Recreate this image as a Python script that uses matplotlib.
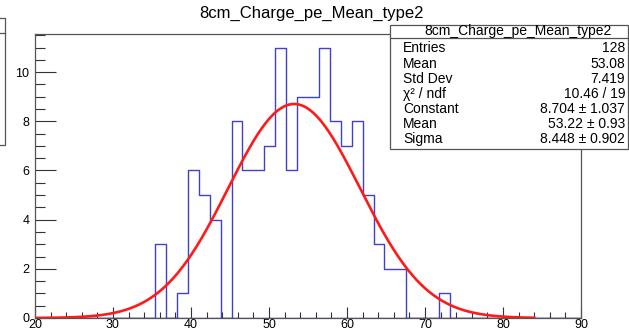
import numpy as np
import matplotlib
matplotlib.use("Agg")
import matplotlib.pyplot as plt
from matplotlib.ticker import MultipleLocator
from matplotlib.patches import Rectangle
from matplotlib.lines import Line2D

plt.rcParams['font.family'] = ['Liberation Sans', 'DejaVu Sans']

title = "8cm_Charge_pe_Mean_type2"
x_min, x_max, n_bins = 20.0, 90.0, 50
counts = [0, 0, 0, 0, 0, 0, 0, 0, 0, 0,
          0, 3, 0, 1, 6, 5, 4, 0, 8, 6,
          6, 7, 11, 6, 9, 9, 11, 8, 7, 8,
          5, 3, 2, 2, 0, 0, 0, 1, 0, 0,
          0, 0, 0, 0, 0, 0, 0, 0, 0, 0]
fit_const, fit_mean, fit_sigma = 8.704, 53.22, 8.448
fit_range = (20.0, 84.0)
stats_labels = ["Entries", "Mean", "Std Dev", "\u03c7\u00b2 / ndf", "Constant", "Mean", "Sigma"]
stats_values = ["128", "53.08", "7.419", "10.46 / 19", "8.704 \u00b1 1.037",
                "53.22 \u00b1 0.93", "8.448 \u00b1 0.902"]

W, H = 629, 331
fig = plt.figure(figsize=(W / 100, H / 100), dpi=100)
ax = fig.add_axes([35 / W, 1 - 318 / H, (581 - 35) / W, (318 - 34) / H])

edges = np.linspace(x_min, x_max, n_bins + 1)
cnt = np.array(counts, dtype=float)
# ROOT-style outline
xs = np.repeat(edges, 2)
ys = np.concatenate([[0], np.repeat(cnt, 2), [0]])
ax.plot(xs, ys, color='#4040c8', lw=1.0, zorder=3)
ax.plot([x_min, x_max], [0, 0], color='#303090', lw=1.0, zorder=3)

xf = np.linspace(fit_range[0], fit_range[1], 400)
yf = fit_const * np.exp(-0.5 * ((xf - fit_mean) / fit_sigma) ** 2)
ax.plot(xf, yf, color='#ff1a1a', lw=1.9, zorder=4)

ymax = 1.05 * max(counts)
ax.set_xlim(x_min, x_max)
ax.set_ylim(0, ymax)

ax.xaxis.set_major_locator(MultipleLocator(10))
ax.xaxis.set_minor_locator(MultipleLocator(2))
ax.yaxis.set_major_locator(MultipleLocator(2))
ax.yaxis.set_minor_locator(MultipleLocator(0.5))
ax.tick_params(axis='x', which='major', direction='in', length=8, width=0.8, labelsize=9, pad=1, color='#333333')
ax.tick_params(axis='x', which='minor', direction='in', length=4, width=0.8, color='#333333')
ax.tick_params(axis='y', which='major', direction='in', length=15, width=0.8, labelsize=9, pad=4, color='#333333')
ax.tick_params(axis='y', which='minor', direction='in', length=7, width=0.8, color='#333333')
for s in ax.spines.values():
    s.set_color('#555555')
    s.set_linewidth(0.9)

fig.text(312 / W, 1 - 13 / H, title, ha='center', va='center', fontsize=12)

# stats box (pixel coords)
def px(x, y):
    return x / W, 1 - y / H

bx0, by0, bx1, by1 = 390, 25, 628, 149
box = Rectangle(px(bx0, by1), (bx1 - bx0) / W, (by1 - by0) / H, transform=fig.transFigure,
                facecolor='white', edgecolor='#555555', lw=0.9, zorder=10)
fig.add_artist(box)
sep_y = 38
fig.add_artist(Line2D([bx0 / W, bx1 / W], [1 - sep_y / H, 1 - sep_y / H], transform=fig.transFigure,
                      color='#555555', lw=0.9, zorder=11))
fig.text(*px(518, 31.5), title, ha='center', va='center', fontsize=10, zorder=12)
row_y = np.linspace(48.5, 139, len(stats_labels))
for lab, val, yy in zip(stats_labels, stats_values, row_y):
    fig.text(*px(403, yy), lab, ha='left', va='center', fontsize=10, zorder=12)
    fig.text(*px(625, yy), val, ha='right', va='center', fontsize=10, zorder=12)

# left fragment of another box
fig.add_artist(Line2D([0, 5 / W, 5 / W, 0], [1 - 18 / H, 1 - 18 / H, 1 - 145 / H, 1 - 145 / H],
                      transform=fig.transFigure, color='#555555', lw=0.9))
fig.add_artist(Line2D([0, 5 / W], [1 - 33 / H, 1 - 33 / H], transform=fig.transFigure,
                      color='#555555', lw=0.9))

fig.savefig("out.png", dpi=100)
